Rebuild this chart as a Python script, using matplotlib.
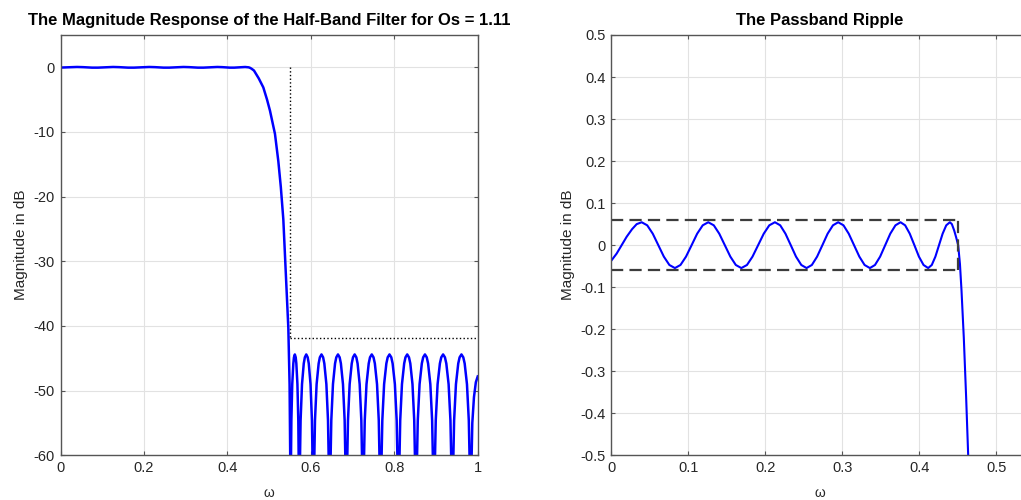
import numpy as np
import matplotlib.pyplot as plt

plt.rcParams['font.family'] = ['Liberation Sans', 'DejaVu Sans']
plt.rcParams['axes.unicode_minus'] = False

# passband ripple, omega (x pi) vs magnitude in dB
w_ripple = [0.0, 0.007, 0.0135, 0.020, 0.027, 0.033, 0.0395,
            0.0467, 0.0539, 0.0611, 0.0683, 0.0755, 0.0827,
            0.0899, 0.0971, 0.1044, 0.1116, 0.1188, 0.1260,
            0.1332, 0.1403, 0.1475, 0.1547, 0.1618, 0.1690,
            0.1763, 0.1835, 0.1908, 0.1981, 0.2053, 0.2126,
            0.2195, 0.2263, 0.2332, 0.2400, 0.2469, 0.2537,
            0.2606, 0.2674, 0.2743, 0.2811, 0.2880, 0.2948,
            0.3017, 0.3085, 0.3154, 0.3223, 0.3291, 0.3360,
            0.3426, 0.3493, 0.3559, 0.3625, 0.3692, 0.3758,
            0.3818, 0.3878, 0.3938, 0.3997, 0.4057, 0.4117,
            0.4164, 0.4211, 0.4258, 0.4305, 0.4352, 0.4399]
db_ripple = [-0.037, -0.020, 0.0, 0.020, 0.038, 0.050, 0.0545,
             0.0472, 0.0273, 0.0, -0.0273, -0.0472, -0.0545,
             -0.0472, -0.0273, 0.0, 0.0273, 0.0472, 0.0545,
             0.0472, 0.0273, 0.0, -0.0273, -0.0472, -0.0545,
             -0.0472, -0.0273, 0.0, 0.0273, 0.0472, 0.0545,
             0.0472, 0.0273, 0.0, -0.0273, -0.0472, -0.0545,
             -0.0472, -0.0273, 0.0, 0.0273, 0.0472, 0.0545,
             0.0472, 0.0273, 0.0, -0.0273, -0.0472, -0.0545,
             -0.0472, -0.0273, 0.0, 0.0273, 0.0472, 0.0545,
             0.0472, 0.0273, 0.0, -0.0273, -0.0472, -0.0545,
             -0.0472, -0.0273, 0.0, 0.0273, 0.0472, 0.0545]

# transition band
w_trans = [0.4425, 0.4455, 0.448, 0.4507, 0.453, 0.455, 0.458, 0.461, 0.4637,
           0.466, 0.475, 0.486, 0.495, 0.502, 0.514, 0.522, 0.528, 0.534,
           0.538, 0.542, 0.546, 0.549, 0.5505, 0.5512]
db_trans = [0.050, 0.035, 0.019, 0.0, -0.045, -0.107, -0.22, -0.36, -0.5,
            -0.75, -1.7, -3.1, -5.0, -6.7, -10.3, -14.5, -18.5, -23.5,
            -29.0, -34.5, -40.3, -49.0, -60.0, -100.0]

# stopband lobes, one row per lobe (nulls go below the axis)
w_stop = [0.5519, 0.5533, 0.5554, 0.5580, 0.5595, 0.5616, 0.5637, 0.5652, 0.5678, 0.5699, 0.5713, 0.5720,
          0.5732, 0.5754, 0.5788, 0.5830, 0.5856, 0.5890, 0.5924, 0.5950, 0.5992, 0.6026, 0.6048, 0.6060,
          0.6074, 0.6099, 0.6138, 0.6187, 0.6216, 0.6255, 0.6294, 0.6323, 0.6372, 0.6411, 0.6436, 0.6450,
          0.6464, 0.6490, 0.6530, 0.6580, 0.6610, 0.6650, 0.6690, 0.6720, 0.6770, 0.6810, 0.6836, 0.6850,
          0.6864, 0.6890, 0.6930, 0.6980, 0.7010, 0.7050, 0.7090, 0.7120, 0.7170, 0.7210, 0.7236, 0.7250,
          0.7265, 0.7292, 0.7334, 0.7387, 0.7418, 0.7460, 0.7502, 0.7534, 0.7586, 0.7628, 0.7655, 0.7670,
          0.7685, 0.7713, 0.7756, 0.7810, 0.7842, 0.7885, 0.7928, 0.7960, 0.8014, 0.8057, 0.8085, 0.8100,
          0.8115, 0.8142, 0.8184, 0.8237, 0.8268, 0.8310, 0.8352, 0.8384, 0.8436, 0.8478, 0.8505, 0.8520,
          0.8535, 0.8563, 0.8606, 0.8660, 0.8692, 0.8735, 0.8778, 0.8810, 0.8864, 0.8907, 0.8935, 0.8950,
          0.8965, 0.8994, 0.9038, 0.9093, 0.9126, 0.9170, 0.9214, 0.9247, 0.9302, 0.9346, 0.9375, 0.9390,
          0.9405, 0.9434, 0.9478, 0.9533, 0.9566, 0.9610, 0.9654, 0.9687, 0.9742, 0.9786, 0.9815, 0.9830,
          0.9845, 0.9870, 0.9910, 0.9955, 1.0]
db_stop = [-63.6, -54.6, -49.0, -45.8, -44.85, -44.4, -44.85, -45.8, -49.0, -54.6, -63.6, -100.0,
           -63.6, -54.6, -49.0, -45.8, -44.85, -44.4, -44.85, -45.8, -49.0, -54.6, -63.6, -100.0,
           -63.6, -54.6, -49.0, -45.8, -44.85, -44.4, -44.85, -45.8, -49.0, -54.6, -63.6, -100.0,
           -63.6, -54.6, -49.0, -45.8, -44.85, -44.4, -44.85, -45.8, -49.0, -54.6, -63.6, -100.0,
           -63.6, -54.6, -49.0, -45.8, -44.85, -44.4, -44.85, -45.8, -49.0, -54.6, -63.6, -100.0,
           -63.6, -54.6, -49.0, -45.8, -44.85, -44.4, -44.85, -45.8, -49.0, -54.6, -63.6, -100.0,
           -63.6, -54.6, -49.0, -45.8, -44.85, -44.4, -44.85, -45.8, -49.0, -54.6, -63.6, -100.0,
           -63.6, -54.6, -49.0, -45.8, -44.85, -44.4, -44.85, -45.8, -49.0, -54.6, -63.6, -100.0,
           -63.6, -54.6, -49.0, -45.8, -44.85, -44.4, -44.85, -45.8, -49.0, -54.6, -63.6, -100.0,
           -63.6, -54.6, -49.0, -45.8, -44.85, -44.4, -44.85, -45.8, -49.0, -54.6, -63.6, -100.0,
           -63.6, -54.6, -49.0, -45.8, -44.85, -44.4, -44.85, -45.8, -49.0, -54.6, -63.6, -100.0,
           -63.0, -55.0, -51.0, -48.7, -47.8]

wp = 0.45           # passband edge
ws = 0.55           # stopband edge
ripple_bound = 0.06
stop_bound = -41.9

left_xticks = [0, 0.2, 0.4, 0.6, 0.8, 1]
left_xlabels = ['0', '0.2', '0.4', '0.6', '0.8', '1']
left_yticks = [-60, -50, -40, -30, -20, -10, 0]
left_ylabels = ['-60', '-50', '-40', '-30', '-20', '-10', '0']
right_xticks = [0, 0.1, 0.2, 0.3, 0.4, 0.5]
right_xlabels = ['0', '0.1', '0.2', '0.3', '0.4', '0.5']
right_yticks = [-0.5, -0.4, -0.3, -0.2, -0.1, 0, 0.1, 0.2, 0.3, 0.4, 0.5]
right_ylabels = ['-0.5', '-0.4', '-0.3', '-0.2', '-0.1', '0', '0.1', '0.2', '0.3', '0.4', '0.5']

w_all = np.concatenate([w_ripple, w_trans, w_stop])
db_all = np.concatenate([db_ripple, db_trans, db_stop])
w_pass = np.concatenate([w_ripple, w_trans])
db_pass = np.concatenate([db_ripple, db_trans])

axcol = '#262626'


def style(ax, title):
    ax.grid(True, color='#e2e2e2', lw=0.8)
    ax.set_axisbelow(True)
    for s in ax.spines.values():
        s.set_color('#555555')
        s.set_linewidth(1.0)
    ax.tick_params(direction='in', top=True, right=True, length=3,
                   color='#555555', labelcolor=axcol, labelsize=10.5, pad=4)
    ax.set_title(title, fontsize=12, fontweight='bold', pad=7)
    ax.set_ylabel('Magnitude in dB', fontsize=11, color=axcol)
    ax.set_xlabel('ω', fontsize=10, color=axcol, labelpad=8)


fig = plt.figure(figsize=(10.21, 5.0), dpi=100)

ax1 = fig.add_axes([0.0593, 0.0894, 0.4086, 0.8406])
ax1.plot(w_all, db_all, color='b', lw=1.8)
ax1.plot([ws, ws], [0, stop_bound], 'k:', lw=1)
ax1.plot([ws, 1], [stop_bound, stop_bound], 'k:', lw=1)
ax1.set_xlim(0, 1)
ax1.set_ylim(-60, 5)
ax1.set_xticks(left_xticks, left_xlabels)
ax1.set_yticks(left_yticks, left_ylabels)
style(ax1, 'The Magnitude Response of the Half-Band Filter for Os = 1.11')

ax2 = fig.add_axes([0.5987, 0.0894, 0.4086, 0.8406])
ax2.plot(w_pass, db_pass, color='b', lw=1.5)
dash_kw = dict(color='#3c3c3c', lw=1.6, dashes=(5.5, 2.8))
ax2.plot([0, wp], [ripple_bound, ripple_bound], **dash_kw)
ax2.plot([0, wp], [-ripple_bound, -ripple_bound], **dash_kw)
ax2.plot([wp, wp], [-ripple_bound, ripple_bound], **dash_kw)
ax2.set_xlim(0, 0.542)
ax2.set_ylim(-0.5, 0.5)
ax2.set_xticks(right_xticks, right_xlabels)
ax2.set_yticks(right_yticks, right_ylabels)
style(ax2, 'The Passband Ripple')

fig.savefig('out.png', dpi=100)
